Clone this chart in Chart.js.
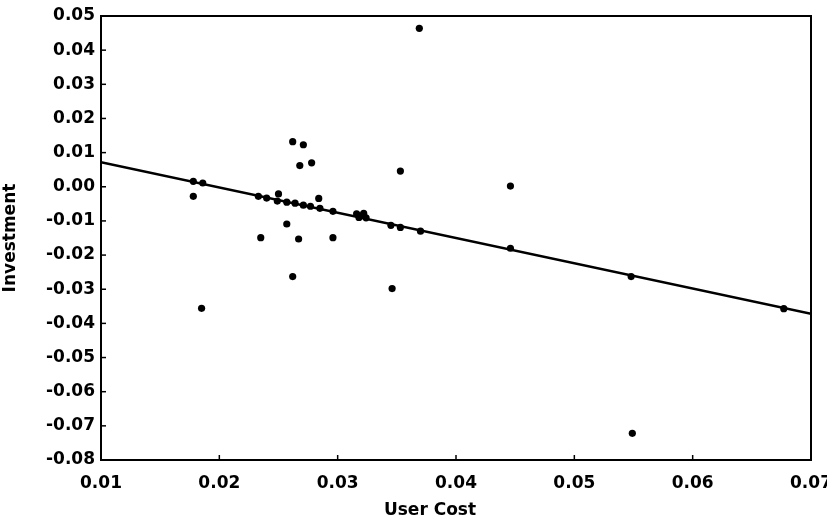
<!DOCTYPE html>
<html>
<head>
<meta charset="utf-8">
<script src="https://cdn.jsdelivr.net/npm/chart.js@4/dist/chart.umd.min.js"></script>
<style>
  html, body { margin: 0; padding: 0; background: #fff; }
  #wrap { width: 827px; height: 529px; position: relative; }
</style>
</head>
<body>
<div id="wrap"><canvas id="scatter-chart"></canvas></div>
<script>
// values
const userCost = [
  0.0178, 0.0186, 0.0178, 0.0233, 0.0240, 0.0249, 0.0250, 0.0257, 0.0264, 0.0271,
  0.0277, 0.0285, 0.0296, 0.0316, 0.0322, 0.0318, 0.0324, 0.0321, 0.0345, 0.0353,
  0.0370, 0.0446, 0.0548, 0.0677, 0.0262, 0.0271, 0.0268, 0.0278, 0.0284, 0.0353,
  0.0369, 0.0235, 0.0257, 0.0267, 0.0296, 0.0185, 0.0262, 0.0346, 0.0446, 0.0549,
];
const investment = [
  0.0016, 0.0011, -0.0028, -0.0028, -0.0033, -0.0042, -0.0021, -0.0045, -0.0048, -0.0054,
  -0.0057, -0.0063, -0.0072, -0.0079, -0.0078, -0.0090, -0.0091, -0.0084, -0.0113, -0.0119,
  -0.0130, -0.0180, -0.0263, -0.0357, 0.0132, 0.0123, 0.0062, 0.0070, -0.0034, 0.0046,
  0.0464, -0.0149, -0.0109, -0.0153, -0.0149, -0.0356, -0.0263, -0.0298, 0.0002, -0.0722,
];
// fitted line end points
const fitX = [0.01, 0.07];
const fitY = [0.0072, -0.0372];

const xTicks = [0.01, 0.02, 0.03, 0.04, 0.05, 0.06, 0.07];
const yTicks = [0.05, 0.04, 0.03, 0.02, 0.01, 0.00, -0.01, -0.02, -0.03, -0.04, -0.05, -0.06, -0.07, -0.08];

const FONT = 'DejaVu Sans, sans-serif';

function fmt(v) {
  if (Math.abs(v) < 1e-9) return '0.00';
  return v.toFixed(2);
}

// box round the plot, small inward ticks, and the x title
const framePlugin = {
  id: 'frame',
  afterDraw(chart) {
    const { ctx, chartArea: a, scales } = chart;
    ctx.save();
    ctx.strokeStyle = '#000';
    ctx.lineWidth = 2;
    ctx.strokeRect(a.left, a.top, a.right - a.left, a.bottom - a.top);
    ctx.lineWidth = 1.5;
    xTicks.forEach(v => {
      const px = scales.x.getPixelForValue(v);
      ctx.beginPath(); ctx.moveTo(px, a.bottom); ctx.lineTo(px, a.bottom - 5); ctx.stroke();
    });
    yTicks.forEach(v => {
      const py = scales.y.getPixelForValue(v);
      ctx.beginPath(); ctx.moveTo(a.left, py); ctx.lineTo(a.left + 5, py); ctx.stroke();
    });
    ctx.fillStyle = '#000';
    ctx.font = 'bold 17px ' + FONT;
    ctx.textAlign = 'center';
    ctx.textBaseline = 'middle';
    ctx.fillText('User Cost', (a.left + a.right) / 2 - 26, a.bottom + 51);
    ctx.restore();
  },
};

const ctx = document.getElementById('scatter-chart').getContext('2d');

new Chart(ctx, {
  type: 'scatter',
  data: {
    datasets: [
      {
        label: 'Fit',
        type: 'line',
        data: fitX.map((x, i) => ({ x: x, y: fitY[i] })),
        borderColor: '#000',
        borderWidth: 2.4,
        pointRadius: 0,
        fill: false,
      },
      {
        label: 'Observations',
        data: userCost.map((x, i) => ({ x: x, y: investment[i] })),
        backgroundColor: '#000',
        borderWidth: 0,
        pointRadius: 3.6,
      },
    ],
  },
  options: {
    responsive: true,
    maintainAspectRatio: false,
    animation: false,
    layout: {
      padding: { top: 16, right: 16, left: 0, bottom: 0 },
    },
    plugins: {
      legend: { display: false },
      tooltip: { enabled: false },
    },
    scales: {
      x: {
        type: 'linear',
        min: 0.01,
        max: 0.07,
        border: { display: false },
        grid: { display: false, drawTicks: false },
        afterBuildTicks: (scale) => { scale.ticks = xTicks.map(v => ({ value: v })); },
        afterFit: (scale) => { scale.height = 69; scale.paddingRight = 0; },
        ticks: {
          color: '#000',
          padding: 13,
          maxRotation: 0,
          font: { family: FONT, size: 17, weight: 'bold' },
          callback: (v) => fmt(v),
        },
      },
      y: {
        type: 'linear',
        min: -0.08,
        max: 0.05,
        border: { display: false },
        grid: { display: false, drawTicks: false },
        afterBuildTicks: (scale) => { scale.ticks = yTicks.map(v => ({ value: v })); },
        afterFit: (scale) => { scale.width = 101; scale.paddingTop = 0; },
        title: {
          display: true,
          text: 'Investment',
          color: '#000',
          padding: { top: 0, bottom: 4 },
          font: { family: FONT, size: 17, weight: 'bold' },
        },
        ticks: {
          color: '#000',
          padding: 6,
          font: { family: FONT, size: 17, weight: 'bold' },
          callback: (v) => fmt(v),
        },
      },
    },
  },
  plugins: [framePlugin],
});
</script>
</body>
</html>
